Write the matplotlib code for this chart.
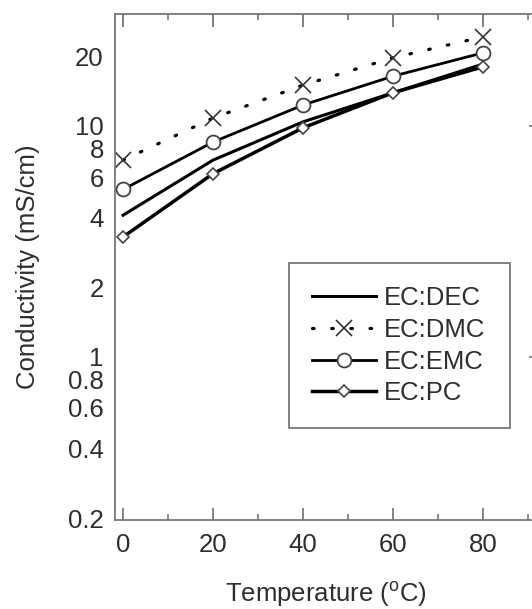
import matplotlib
matplotlib.use("Agg")
import matplotlib.pyplot as plt
from matplotlib.ticker import FixedLocator, FuncFormatter

plt.rcParams['font.family'] = ['Liberation Sans', 'DejaVu Sans']

# data
temperature = [0, 20, 40, 60, 80]
ec_dec = [4.1, 7.1, 10.4, 13.9, 18.5]
ec_dmc = [7.1, 10.8, 15.0, 19.7, 24.3]
ec_emc = [5.3, 8.5, 12.3, 16.4, 20.7]
ec_pc = [3.3, 6.2, 9.8, 13.9, 18.0]

ytick_labels = [0.2, 0.4, 0.6, 0.8, 1, 2, 4, 6, 8, 10, 20]

txt = "#2e2e2e"
spine_c = "#777777"
fs = 18.5

fig = plt.figure(figsize=(5.32, 6.09), dpi=100)
ax = fig.add_axes([0.216, 0.146, 0.793, 0.831])

ax.plot(temperature, ec_dec, color="black", lw=2.2, label="EC:DEC")
ax.plot(temperature, ec_dmc, color="black", lw=2.3, linestyle=(0, (0.5, 5.5)),
        dash_capstyle="round", marker="x", ms=11, mew=1.2, mec="#333333",
        label="EC:DMC")
ax.plot(temperature, ec_emc, color="black", lw=2.0, marker="o", ms=10,
        mfc="white", mec="#444444", mew=1.3, label="EC:EMC")
ax.plot(temperature, ec_pc, color="black", lw=2.5, marker="D", ms=6.5,
        mfc="white", mec="#444444", mew=1.2, label="EC:PC")

ax.set_yscale("log")
ax.set_xlim(-1.8, 92)
ax.set_ylim(0.196, 30.5)

ax.set_xticks([0, 20, 40, 60, 80])
ax.set_xticks([10, 30, 50, 70, 90], minor=True)

ax.yaxis.set_major_locator(FixedLocator([1, 10]))
minor_vals = [m * d for d in (0.1, 1, 10) for m in range(2, 10)]
ax.yaxis.set_minor_locator(FixedLocator(minor_vals))


def ylab(v, pos):
    for t in ytick_labels:
        if abs(v - t) < 1e-6 * t:
            return "%g" % t
    return ""


ax.yaxis.set_major_formatter(FuncFormatter(ylab))
ax.yaxis.set_minor_formatter(FuncFormatter(ylab))

ax.tick_params(axis="x", which="both", direction="in", top=True, colors=spine_c,
               labelcolor=txt, labelsize=fs, pad=9)
ax.tick_params(axis="x", which="major", length=9, width=1.3)
ax.tick_params(axis="x", which="minor", length=4, width=1.2)
ax.tick_params(axis="y", which="both", direction="in", left=False, right=True,
               labelleft=True, colors=spine_c, labelcolor=txt, labelsize=fs, pad=8)
ax.tick_params(axis="y", which="major", length=6, width=1.2)
ax.tick_params(axis="y", which="minor", length=3, width=1.0)

for s in ax.spines.values():
    s.set_color(spine_c)
    s.set_linewidth(1.3)

ax.set_xlabel("Temperature ($\\mathregular{^{o}}$C)", fontsize=fs, color=txt, labelpad=17)
ax.set_ylabel("Conductivity (mS/cm)", fontsize=fs, color=txt, labelpad=20)

leg = ax.legend(loc="upper left", bbox_to_anchor=(0.412, 0.174, 0.524, 0.334),
                mode="expand", fontsize=fs, handlelength=2.5, handletextpad=0.3,
                labelspacing=0.3, borderpad=0.9, fancybox=False, framealpha=1,
                borderaxespad=0)
leg.get_frame().set_edgecolor(spine_c)
leg.get_frame().set_linewidth(1.3)
for t in leg.get_texts():
    t.set_color(txt)

fig.savefig("out.png", dpi=100)
